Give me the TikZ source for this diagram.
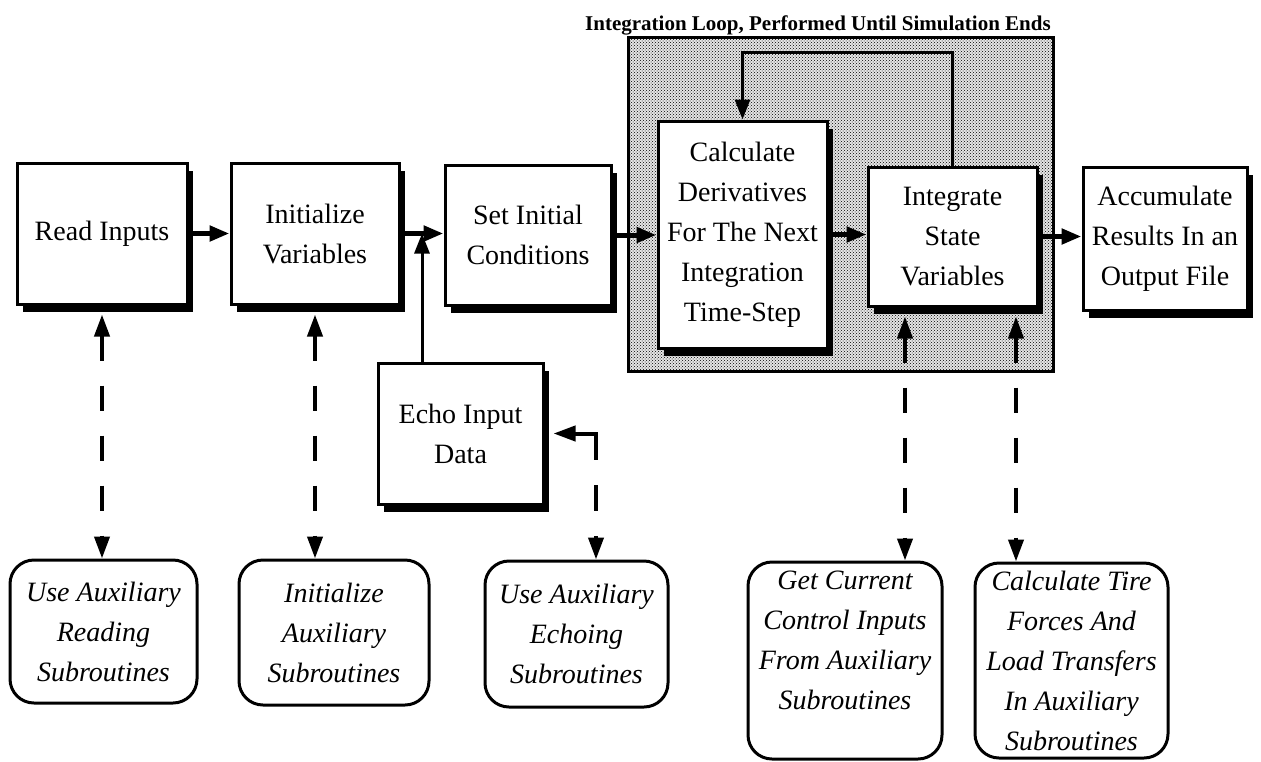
\documentclass[tikz,border=0pt]{standalone}
\usepackage{fontspec}
\setmainfont{Liberation Serif}
\usetikzlibrary{arrows.meta}
\usetikzlibrary{shadows}
\usetikzlibrary{patterns}

\begin{document}
\begin{tikzpicture}[x=1pt,y=-1pt,
    mainbox/.style={draw,line width=3pt,fill=white,inner sep=0pt,align=center,
        font=\fontsize{28}{40}\selectfont,
        drop shadow={shadow xshift=6pt,shadow yshift=-8pt,fill=black,opacity=1}},
    subbox/.style={draw,line width=3pt,fill=white,rounded corners=24pt,inner sep=0pt,
        align=center,font=\fontsize{28}{40}\selectfont\itshape},
    flow/.style={line width=5pt,-{Triangle[length=20pt,width=15pt]}},
    thinflow/.style={line width=3pt,-{Triangle[length=20pt,width=15pt]}},
    dasharrow/.style={line width=4pt,dash pattern=on 25pt off 25pt,
        {Triangle[length=22pt,width=15pt]}-{Triangle[length=22pt,width=15pt]}}]
            \useasboundingbox (0,0) rectangle (1261,761);
            % the shaded integration loop
            \fill[black!10] (628,37) rectangle (1053,371);
            \draw[line width=3pt,pattern=crosshatch dots,pattern color=black] (628,37) rectangle (1053,371);
            \node[font=\fontsize{21}{25}\selectfont\bfseries,anchor=base] (looptitle) at (818,30)
                {Integration Loop, Performed Until Simulation Ends};
            % main boxes
            \node[mainbox,minimum width=170pt,minimum height=141pt] (read) at (102,233.5) {Read Inputs};
            \node[mainbox,minimum width=168pt,minimum height=141pt] (init) at (315,233.5) {Initialize\\Variables};
            \node[mainbox,minimum width=166pt,minimum height=140pt] (set) at (528,235) {Set Initial\\Conditions};
            \node[mainbox,minimum width=169pt,minimum height=227pt] (calc) at (742.5,234.5)
                {Calculate\\Derivatives\\For The Next\\Integration\\Time-Step};
            \node[mainbox,minimum width=169pt,minimum height=139pt] (integ) at (952.5,236.5) {Integrate\\State\\Variables};
            \node[mainbox,minimum width=164pt,minimum height=143pt] (accum) at (1165,238.5)
                {Accumulate\\Results In an\\Output File};
            \node[mainbox,minimum width=165pt,minimum height=141pt] (echo) at (460.5,433.5) {Echo Input\\Data};
            % auxiliary subroutines
            \node[subbox,minimum width=187pt,minimum height=143pt] (rdsub) at (103.5,631.5)
                {Use Auxiliary\\Reading\\Subroutines};
            \node[subbox,minimum width=190pt,minimum height=145pt] (insub) at (334,632.5)
                {Initialize\\Auxiliary\\Subroutines};
            \node[subbox,minimum width=183pt,minimum height=146pt] (ecsub) at (576.5,634)
                {Use Auxiliary\\Echoing\\Subroutines};
            \node[subbox,minimum width=194pt,minimum height=197pt] (cursub) at (845,660.5)
                {Get Current\\Control Inputs\\From Auxiliary\\Subroutines\\~};
            \node[subbox,minimum width=193pt,minimum height=195pt] (tiresub) at (1071.5,660.5)
                {Calculate Tire\\Forces And\\Load Transfers\\In Auxiliary\\Subroutines};
            % main flow
            \coordinate (join) at (422,233.5);
            \foreach \a/\b in {read/init,init/set,set/calc,calc/integ,integ/accum}
                \draw[flow] (\a.east) -- (\a.east -| \b.west);
            \draw[thinflow] (echo.north -| join) -- (join);
            % loop back
            \coordinate (looptop) at (850,52);
            \draw[thinflow] (integ.north) -- (integ.north |- looptop) -| (calc.north);
            % calls to the subroutines
            \foreach \n/\t in {read/rdsub,init/insub}
                \draw[dasharrow] ([yshift=-9pt]\n.south) -- (\n.south |- \t.north);
            \coordinate (curin) at ([shift={(-47.5pt,-9pt)}]integ.south);
            \coordinate (tirein) at ([shift={(63.5pt,-9pt)}]integ.south);
            \draw[dasharrow] (curin) -- (curin |- cursub.north);
            \draw[dasharrow] (tirein) -- (tirein |- tiresub.north);
            \coordinate (echoturn) at (596,433.5);
            \draw[dasharrow,dash pattern=on 48pt off 25pt on 26pt off 25pt]
                ([xshift=9pt]echo.east) -- (echoturn) -- (echoturn |- ecsub.north);
        \end{tikzpicture}
\end{document}
